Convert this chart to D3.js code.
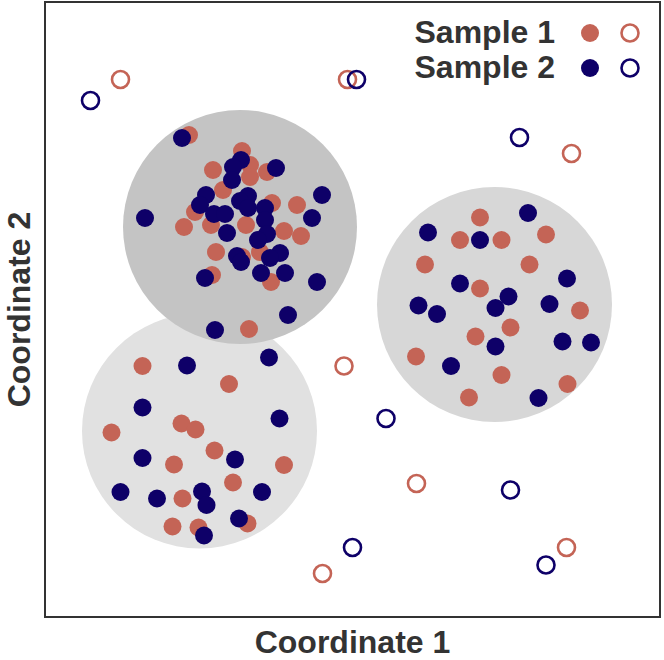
<!DOCTYPE html>
<html>
<head>
<meta charset="utf-8">
<script src="https://cdn.jsdelivr.net/npm/d3@7"></script>
<style>
  body { margin: 0; background: #fff; }
  svg text { font-family: "Liberation Sans", Arial, sans-serif; font-weight: bold; fill: #333; }
</style>
</head>
<body>
<div id="chart"></div>
<script>
// data (arbitrary embedding coordinates)
const seriesNames = ["Sample 1", "Sample 2"];

const clusterCenters = [[30.9, 37.2], [89.9, 62.5], [39.0, 78.0]];
const clusterRadii = [23.5, 23.5, 23.4];

const sample1 = [
  [28.8, 96.4], [39.4, 93.2], [41.0, 90.4], [33.6, 89.4], [44.4, 89.0], [41.0, 88.0],
  [35.6, 85.4], [45.4, 82.8], [50.4, 82.4], [30.0, 81.0], [27.8, 78.0], [33.2, 78.4],
  [40.2, 78.4], [47.8, 77.2], [51.2, 76.2], [34.2, 73.0], [43.0, 73.0], [39.4, 72.0],
  [33.4, 68.4], [45.2, 67.0], [40.8, 57.6],
  [19.5, 50.2], [36.8, 46.6], [13.3, 36.9], [27.3, 38.7], [30.1, 37.5], [33.9, 33.3],
  [25.8, 30.5], [47.8, 30.4], [37.6, 26.9], [27.5, 23.7], [25.5, 18.1], [30.7, 17.9],
  [40.5, 18.7],
  [87.0, 79.9], [83.0, 75.4], [91.3, 75.4], [100.2, 76.5], [76.0, 70.5], [96.9, 70.5],
  [87.0, 65.7], [107.0, 61.3], [93.1, 57.9], [86.1, 56.1], [74.2, 52.1], [91.3, 48.4],
  [104.5, 46.6], [84.8, 43.9]
];

const sample2 = [
  [27.4, 95.8], [39.2, 91.4], [37.6, 90.0], [46.2, 89.8], [37.4, 87.4], [55.4, 84.4],
  [32.2, 84.4], [40.6, 84.2], [39.0, 83.2], [31.0, 82.4], [40.6, 81.8], [44.0, 81.8],
  [33.8, 80.6], [36.0, 80.6], [20.0, 79.8], [53.4, 79.8], [44.0, 79.4], [36.4, 76.8],
  [44.4, 76.6], [42.6, 75.4], [47.0, 72.8], [45.0, 71.8], [38.4, 72.2], [39.2, 71.0],
  [43.2, 68.8], [48.0, 68.8], [32.0, 67.8], [54.4, 67.0], [48.6, 60.4], [34.0, 57.4],
  [28.4, 50.3], [44.8, 51.9], [19.5, 41.9], [46.9, 39.7], [19.5, 31.8], [38.0, 31.5],
  [15.1, 25.0], [22.4, 23.7], [31.4, 25.1], [32.3, 22.4], [43.4, 25.0], [38.8, 19.7],
  [31.8, 16.3],
  [96.6, 80.8], [76.6, 76.9], [87.0, 75.4], [104.4, 67.7], [83.0, 66.7], [92.7, 64.1],
  [74.7, 62.3], [90.1, 61.8], [78.4, 60.6], [100.9, 62.6], [90.1, 54.1], [103.5, 55.1],
  [109.2, 54.9], [81.2, 50.2], [98.7, 43.8]
];

const outliers1 = [
  [15.1, 107.5], [60.5, 107.5], [105.3, 92.7], [59.8, 50.2], [74.3, 26.7], [104.3, 13.9], [55.5, 8.7]
];
const outliers2 = [
  [9.1, 103.3], [62.3, 107.5], [94.9, 95.9], [68.2, 39.7], [93.1, 25.4], [61.5, 13.9], [100.2, 10.4]
];

const xDomain = [0, 123];
const yDomain = [0, 123];

// layout
const width = 664, height = 660;
const margin = { top: 2, right: 4, bottom: 43, left: 45 };
const colors = ["#c46456", "#0e0068"];
const shades = ["#e1e1e1", "#d7d7d7", "#c4c4c4"];

const svg = d3.select("#chart").append("svg")
  .attr("width", width)
  .attr("height", height);

const x = d3.scaleLinear().domain(xDomain).range([margin.left, width - margin.right]);
const y = d3.scaleLinear().domain(yDomain).range([height - margin.bottom, margin.top]);

// cluster discs
svg.selectAll(".cluster")
  .data(clusterCenters)
  .enter()
  .append("circle")
  .attr("class", "cluster")
  .attr("cx", d => x(d[0]))
  .attr("cy", d => y(d[1]))
  .attr("r", (d, i) => x(clusterRadii[i]) - x(0))
  .style("fill", (d, i) => shades[i]);

// filled points
[sample1, sample2].forEach((pts, k) => {
  svg.append("g").selectAll("circle")
    .data(pts)
    .enter()
    .append("circle")
    .attr("cx", d => x(d[0]))
    .attr("cy", d => y(d[1]))
    .attr("r", 9)
    .style("fill", colors[k]);
});

// open points (outliers)
[outliers1, outliers2].forEach((pts, k) => {
  svg.append("g").selectAll("circle")
    .data(pts)
    .enter()
    .append("circle")
    .attr("cx", d => x(d[0]))
    .attr("cy", d => y(d[1]))
    .attr("r", 8.5)
    .style("fill", "none")
    .style("stroke", colors[k])
    .style("stroke-width", 2.6);
});

// frame
svg.append("rect")
  .attr("x", x(xDomain[0]))
  .attr("y", y(yDomain[1]))
  .attr("width", x(xDomain[1]) - x(xDomain[0]))
  .attr("height", y(yDomain[0]) - y(yDomain[1]))
  .style("fill", "none")
  .style("stroke", "#333")
  .style("stroke-width", 2);

// axis titles
svg.append("text")
  .attr("x", (x(xDomain[0]) + x(xDomain[1])) / 2)
  .attr("y", height - 7)
  .attr("text-anchor", "middle")
  .style("font-size", "32px")
  .text("Coordinate 1");

svg.append("text")
  .attr("transform", `translate(30,${(y(yDomain[0]) + y(yDomain[1])) / 2}) rotate(-90)`)
  .attr("text-anchor", "middle")
  .style("font-size", "32px")
  .text("Coordinate 2");

// legend
const legend = svg.append("g").selectAll("g")
  .data(seriesNames)
  .enter()
  .append("g")
  .attr("transform", (d, i) => `translate(0,${33 + i * 35})`);

legend.append("text")
  .attr("x", 555)
  .attr("y", 10)
  .attr("text-anchor", "end")
  .style("font-size", "32px")
  .text(d => d);

legend.append("circle")
  .attr("cx", 590)
  .attr("cy", 0)
  .attr("r", 9)
  .style("fill", (d, i) => colors[i]);

legend.append("circle")
  .attr("cx", 630)
  .attr("cy", 0)
  .attr("r", 8.5)
  .style("fill", "none")
  .style("stroke", (d, i) => colors[i])
  .style("stroke-width", 2.6);
</script>
</body>
</html>
